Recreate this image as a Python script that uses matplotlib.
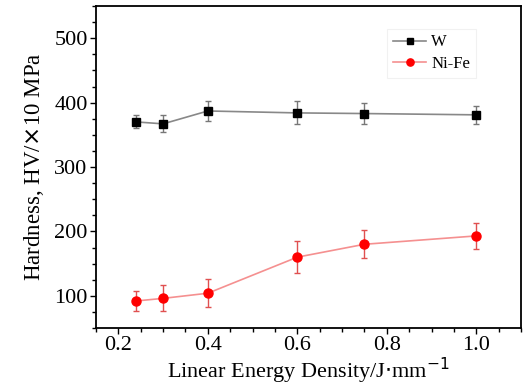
import matplotlib
matplotlib.use('Agg')
import matplotlib.pyplot as plt
from matplotlib.ticker import MultipleLocator

plt.rcParams['font.family'] = ['Liberation Serif', 'DejaVu Serif']

x = [0.24, 0.30, 0.40, 0.60, 0.75, 1.00]
w_vals = [370, 367, 387, 384, 383, 381]
w_err = [10, 13, 15, 18, 17, 14]
nife_vals = [92, 96, 104, 160, 180, 193]
nife_err = [15, 20, 22, 25, 22, 20]

fig = plt.figure(figsize=(5.29, 3.85), dpi=100)
ax = fig.add_axes([96 / 529, 1 - 328 / 385, 425 / 529, 322 / 385])

eb_w = ax.errorbar(x, w_vals, yerr=w_err, color='#888888', lw=1.2, marker='s', ms=6,
                   mfc='black', mec='black', ecolor='#777777', elinewidth=1, capsize=2.5,
                   capthick=1)
eb_n = ax.errorbar(x, nife_vals, yerr=nife_err, color='#f59090', lw=1.2, marker='o', ms=6.5,
                   mfc='red', mec='red', ecolor='#e05050', elinewidth=1, capsize=2.5,
                   capthick=1)

ax.set_xlim(0.15, 1.1)
ax.set_ylim(50, 550)
ax.xaxis.set_minor_locator(MultipleLocator(0.05))
ax.yaxis.set_major_locator(MultipleLocator(100))
ax.yaxis.set_minor_locator(MultipleLocator(25))
ax.set_xticks([0.2, 0.4, 0.6, 0.8, 1.0])
ax.set_xticklabels(['0.2', '0.4', '0.6', '0.8', '1.0'])
ax.tick_params(which='major', direction='out', length=4, width=1, labelsize=16, pad=2)
ax.tick_params(which='minor', direction='out', length=3, width=1)
for s in ax.spines.values():
    s.set_linewidth(1.3)

ax.set_xlabel('Linear Energy Density/J$\\cdot$mm$^{-1}$', fontsize=16, labelpad=0)
ax.set_ylabel('Hardness, HV/$\\times$10 MPa', fontsize=16.5, labelpad=6)

leg = ax.legend([eb_w[0], eb_n[0]], ['W', 'Ni-Fe'], loc='upper left',
                bbox_to_anchor=(0.685, 0.93), fontsize=12,
                frameon=True, fancybox=False, handlelength=2.0, handletextpad=0.3,
                borderpad=0.35, labelspacing=0.35, borderaxespad=0, markerscale=0.8)
leg.get_frame().set_edgecolor('#eeeeee')
leg.get_frame().set_linewidth(0.8)

fig.savefig('out.png', dpi=100)
